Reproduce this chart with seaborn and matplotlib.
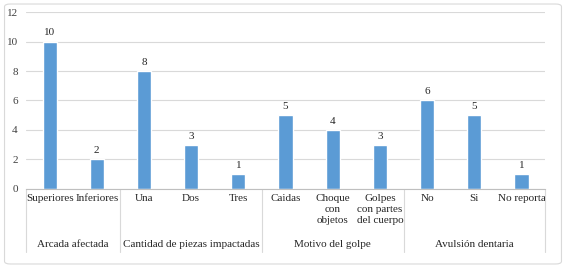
import matplotlib
matplotlib.use("Agg")
import matplotlib.pyplot as plt
import matplotlib.transforms as mtransforms
from matplotlib.patches import FancyBboxPatch
import seaborn as sns
import pandas as pd

categories = ["Superiores", "Inferiores", "Una", "Dos", "Tres", "Caidas",
              "Choque\ncon\nobjetos", "Golpes\ncon partes\ndel cuerpo",
              "No", "Si", "No reporta"]
values = [10, 2, 8, 3, 1, 5, 4, 3, 6, 5, 1]
groups = ["Arcada afectada", "Cantidad de piezas impactadas",
          "Motivo del golpe", "Avulsión dentaria"]
group_sizes = [2, 3, 3, 3]
yticks = [0, 2, 4, 6, 8, 10, 12]

sns.set_theme(style="white")
plt.rcParams['font.family'] = ['Liberation Serif', 'DejaVu Serif']

FS = 8

df = pd.DataFrame({"cat": categories, "val": values})

fig = plt.figure(figsize=(5.66, 2.68), dpi=100)
ax = fig.add_axes([0.046, 0.295, 0.917, 0.66])

sns.barplot(data=df, x="cat", y="val", order=categories, color="#5B9BD5",
            saturation=1, width=0.3, ax=ax)

ax.set_ylim(0, 12)
ax.set_xlim(-0.5, len(categories) - 0.5)
ax.set_yticks(yticks)
ax.set_yticklabels([str(t) for t in yticks], fontsize=FS, color="#404040")
ax.yaxis.grid(True, color="#D9D9D9", linewidth=0.8)
ax.set_axisbelow(True)
for s in ["top", "right", "left"]:
    ax.spines[s].set_visible(False)
ax.spines["bottom"].set_color("#BFBFBF")
ax.spines["bottom"].set_linewidth(0.8)
ax.tick_params(axis="y", length=0, pad=6)
ax.tick_params(axis="x", length=0, pad=4, labelsize=FS, labelcolor="#262626")
ax.set_xlabel("")
ax.set_ylabel("")
for lbl in ax.get_xticklabels():
    lbl.set_linespacing(1.25)

for c in ax.containers:
    ax.bar_label(c, fmt="%d", padding=3, fontsize=FS, color="#262626")

trans = mtransforms.blended_transform_factory(ax.transData, ax.transAxes)
bounds = [-0.5]
acc = -0.5
for g in group_sizes:
    acc += g
    bounds.append(acc)
for b in bounds:
    ax.plot([b, b], [0, -0.356], transform=trans, color="#D9D9D9",
            linewidth=0.8, clip_on=False)
for i, g in enumerate(groups):
    mid = (bounds[i] + bounds[i + 1]) / 2
    ax.text(mid, -0.316, g, transform=trans, ha="center", va="center",
            fontsize=FS, color="#262626")

border = FancyBboxPatch((0.008, 0.015), 0.984, 0.97,
                        boxstyle="round,pad=0,rounding_size=0.01",
                        transform=fig.transFigure, facecolor="none",
                        edgecolor="#D9D9D9", linewidth=0.8)
fig.patches.append(border)

fig.savefig("out.png", dpi=100)
